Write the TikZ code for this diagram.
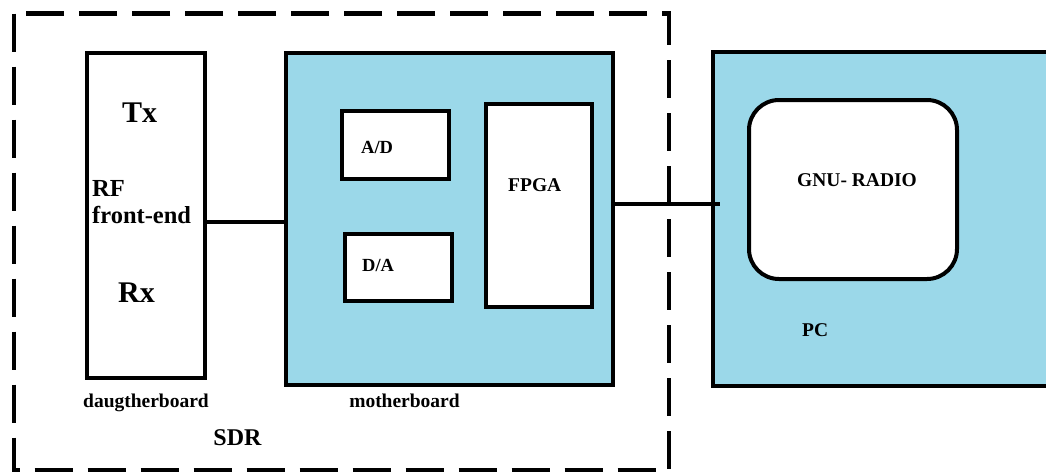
\documentclass[tikz,border=0pt]{standalone}
\usepackage{fontspec}
\setmainfont{Liberation Serif}
\definecolor{boardblue}{RGB}{155,216,233}
\begin{document}
\begin{tikzpicture}[x=1pt,y=-1pt,
  box/.style={draw=black,line width=4pt,inner sep=0pt,outer sep=0pt,fill=white},
  bluebox/.style={box,fill=boardblue},
  wire/.style={draw=black,line width=4pt},
  lbl/.style={inner sep=0pt,anchor=base west,font=\bfseries\fontsize{#1}{#1}\selectfont},
  lbl/.default=19]
\useasboundingbox (0,0) rectangle (1046,475);
% SDR dashed outline
\draw[line width=4.5pt,dash pattern=on 38pt off 15pt] (14,13.5) rectangle (669,470);
% boards
\node[box,minimum width=118,minimum height=325] (daughter) at (146,215.5) {};
\node[bluebox,minimum width=327,minimum height=332] (mother) at (449.5,219) {};
\node[box,minimum width=107,minimum height=68] (ad) at (395.5,145) {};
\node[box,minimum width=107,minimum height=67] (da) at (398.5,267.5) {};
\node[box,minimum width=106,minimum height=203] (fpga) at (539,205.5) {};
\node[bluebox,minimum width=347,minimum height=334.5] (pc) at (886.5,218.75) {};
\node[box,rounded corners=30pt,minimum width=208,minimum height=179] (gnu) at (853,189.5) {};
% connectors
\coordinate (l1) at (0,222);
\coordinate (l2) at (0,204);
\coordinate (pcend) at ([xshift=7pt]pc.west);
\draw[wire] (daughter.east |- l1) -- (mother.west |- l1);
\draw[wire] (mother.east |- l2) -- (pcend |- l2);
% texts
\node[lbl=30] (tx) at (122,122) {Tx};
\node[lbl=24.5] (rf) at (92,196) {RF};
\node[lbl=24.5] (fe) at (92,223) {front-end};
\node[lbl=30] (rx) at (118,302) {Rx};
\node[lbl=18.5] (adt) at (361,153.5) {A/D};
\node[lbl=18.5] (dat) at (362,271.5) {D/A};
\node[lbl=19.5] (fpgat) at (508,191.5) {FPGA};
\node[lbl=19.5] (gnut) at (797,186.5) {GNU- RADIO};
\node[lbl=19.5] (pct) at (802,336.5) {PC};
\node[lbl=19.5,anchor=base] (dbt) at (146,407) {daugtherboard};
\node[lbl=19.5,anchor=base] (mbt) at (404.5,407) {motherboard};
\node[lbl=24,anchor=base] (sdrt) at (237.5,445) {SDR};
\end{tikzpicture}
\end{document}
